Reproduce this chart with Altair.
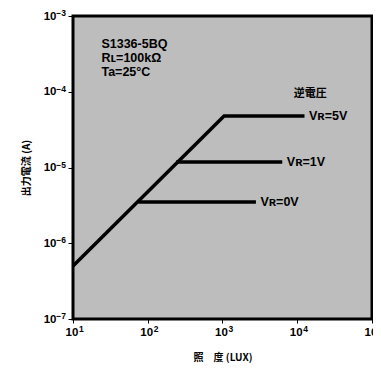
import altair as alt
import pandas as pd

# Curves (illuminance in lux, output current in A)
series_names = ["Vʀ=5V", "Vʀ=1V", "Vʀ=0V"]
x_5v = [10, 1050, 12500]
y_5v = [5e-7, 4.8e-5, 4.8e-5]
x_1v = [240, 6300]
y_1v = [1.18e-5, 1.18e-5]
x_0v = [75, 2800]
y_0v = [3.5e-6, 3.5e-6]

x_ticks = [10, 100, 1000, 10000, 100000]
x_exps = ["1", "2", "3", "4", "5"]
y_ticks = [1e-7, 1e-6, 1e-5, 1e-4, 1e-3]
y_exps = ["−7", "−6", "−5", "−4", "−3"]

info_lines = ["S1336-5BQ", "Rʟ=100kΩ", "Ta=25°C"]
info_y = [4.3e-4, 2.8e-4, 1.85e-4]
info_x = [24, 24, 24]

rows = []
for name, xs, ys in zip(series_names, [x_5v, x_1v, x_0v], [y_5v, y_1v, y_0v]):
    for i, (xv, yv) in enumerate(zip(xs, ys)):
        rows.append({"series": name, "x": xv, "y": yv, "i": i})
df = pd.DataFrame(rows)

label_df = pd.DataFrame({
    "series": series_names,
    "x": [x_5v[-1] * 1.15, x_1v[-1] * 1.15, x_0v[-1] * 1.15],
    "y": [y_5v[-1], y_1v[-1], y_0v[-1]],
})
info_df = pd.DataFrame({"t": info_lines, "x": info_x, "y": info_y})
head_df = pd.DataFrame({"t": ["逆電圧"], "x": [9000], "y": [9.3e-5]})
xbase_df = pd.DataFrame({"x": x_ticks, "y": [1e-7] * 5, "t": ["10"] * 5})
xexp_df = pd.DataFrame({"x": x_ticks, "y": [1e-7] * 5, "t": x_exps})
yexp_df = pd.DataFrame({"x": [10] * 5, "y": y_ticks, "t": y_exps})

FONT = "Liberation Sans"

xs = alt.Scale(type="log", domain=[10, 100000], nice=False)
ys = alt.Scale(type="log", domain=[1e-7, 1e-3], nice=False)

x_axis = alt.Axis(values=x_ticks, labels=False, grid=False, domain=False,
                  tickSize=4, tickColor="black",
                  title="照　度 (LUX)", titleFont="Noto Sans CJK JP", titleFontSize=10,
                  titleFontWeight="bold", titlePadding=29, titleColor="black")
y_axis = alt.Axis(values=y_ticks, labelExpr="'10'", grid=False, domain=False,
                  tickSize=5, tickColor="black", labelFont=FONT, labelFontWeight="bold",
                  labelFontSize=11.5, labelColor="black", labelPadding=12,
                  title="出力電流 (A)", titleFont="Noto Sans CJK JP", titleFontSize=10,
                  titleFontWeight="bold", titlePadding=12, titleColor="black")

lines = alt.Chart(df).mark_line(color="black", strokeWidth=3.5, strokeJoin="miter").encode(
    x=alt.X("x:Q", scale=xs, axis=x_axis),
    y=alt.Y("y:Q", scale=ys, axis=y_axis),
    detail="series:N",
    order="i:Q",
)

xbase = alt.Chart(xbase_df).mark_text(align="center", baseline="top", dx=-1, dy=8, font=FONT,
                                      fontWeight="bold", fontSize=11.5, color="black").encode(
    x=alt.X("x:Q", scale=xs), y=alt.Y("y:Q", scale=ys), text="t:N")
xexp = alt.Chart(xexp_df).mark_text(align="left", baseline="top", dx=6, dy=6, font=FONT,
                                    fontWeight="bold", fontSize=8.5, color="black").encode(
    x=alt.X("x:Q", scale=xs), y=alt.Y("y:Q", scale=ys), text="t:N")
yexp = alt.Chart(yexp_df).mark_text(align="right", baseline="middle", dx=-7, dy=-3, font=FONT,
                                    fontWeight="bold", fontSize=8.5, color="black").encode(
    x=alt.X("x:Q", scale=xs), y=alt.Y("y:Q", scale=ys), text="t:N")

labels = alt.Chart(label_df).mark_text(align="left", baseline="middle", font=FONT,
                                       fontWeight="bold", fontSize=12.5, color="black").encode(
    x=alt.X("x:Q", scale=xs), y=alt.Y("y:Q", scale=ys), text="series:N")

info = alt.Chart(info_df).mark_text(align="left", baseline="middle", font=FONT,
                                    fontWeight="bold", fontSize=12.5, color="black").encode(
    x=alt.X("x:Q", scale=xs), y=alt.Y("y:Q", scale=ys), text="t:N")

head = alt.Chart(head_df).mark_text(align="left", baseline="middle", font="Noto Sans CJK JP",
                                    fontWeight="bold", fontSize=11, color="black").encode(
    x=alt.X("x:Q", scale=xs), y=alt.Y("y:Q", scale=ys), text="t:N")

chart = alt.layer(lines, labels, info, head, xbase, xexp, yexp).properties(
    width=299, height=303,
    autosize=alt.AutoSizeParams(type="none"),
    padding={"left": 65, "top": 8, "right": 1, "bottom": 53},
    background="white",
).configure_view(fill="#bdbdbd", stroke="black", strokeWidth=3)

chart.save("out.html", embed_options={"renderer": "svg", "actions": False})
